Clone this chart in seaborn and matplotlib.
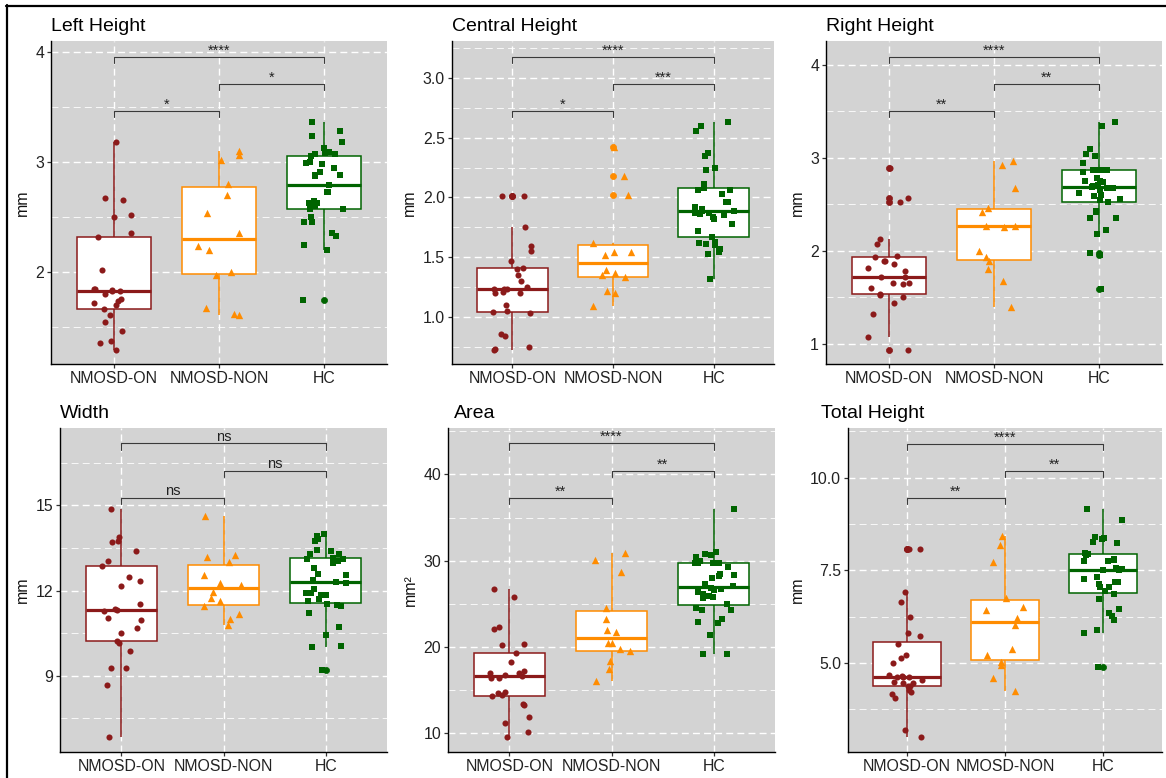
import numpy as np
import pandas as pd
import matplotlib
matplotlib.use("Agg")
import matplotlib.pyplot as plt
from matplotlib.lines import Line2D
import seaborn as sns

# ---------------- data ----------------
groups = ["NMOSD-ON", "NMOSD-NON", "HC"]
group_colors = ["#8B1A1A", "#FF8C00", "#006400"]
group_markers = ["o", "^", "s"]
group_sizes = [4.4, 5.3, 4.0]

left_on = [3.18, 2.66, 2.67, 2.50, 2.52, 2.36, 2.32, 2.02, 1.85, 1.84, 1.85, 1.83, 1.83,
           1.80, 1.76, 1.74, 1.72, 1.70, 1.67, 1.61, 1.55, 1.47, 1.38, 1.36, 1.30]
left_non = [3.06, 3.02, 3.10, 2.80, 2.70, 2.54, 2.36, 2.24, 2.20, 1.98, 2.00, 1.68, 1.62, 1.61]
left_hc = [3.36, 3.28, 3.24, 3.18, 3.13, 3.09, 3.07, 3.08, 3.07, 3.05, 2.99, 2.95, 2.98, 3.00,
           2.88, 2.88, 2.91, 2.87, 2.79, 2.73, 2.73, 2.65, 2.60, 2.65, 2.63, 2.63, 2.57, 2.57,
           2.57, 2.50, 2.46, 2.46, 2.36, 2.33, 2.25, 2.20, 1.75]

central_on = [2.01, 2.01, 1.75, 1.59, 1.55, 1.47, 1.40, 1.41, 1.35, 1.30, 1.23, 1.23, 1.20,
              1.25, 1.23, 1.20, 1.21, 1.10, 1.04, 1.05, 1.03, 0.86, 0.84, 0.75, 0.72, 0.73]
central_non = [2.42, 2.18, 2.02, 1.62, 1.52, 1.54, 1.54, 1.39, 1.37, 1.35, 1.33, 1.22, 1.20, 1.09]
central_hc = [2.63, 2.60, 2.56, 2.37, 2.35, 2.25, 2.23, 2.23, 2.06, 2.11, 2.06, 2.08, 2.03,
              1.96, 1.96, 1.89, 1.86, 1.92, 1.87, 1.90, 1.89, 1.87, 1.85, 1.84, 1.82, 1.78,
              1.72, 1.67, 1.62, 1.63, 1.61, 1.60, 1.57, 1.53, 1.55, 1.54, 1.32]

right_on = [2.89, 2.57, 2.53, 2.13, 2.07, 1.95, 1.93, 1.89, 1.86, 1.89, 1.82, 1.78, 1.72,
            1.72, 1.66, 1.66, 1.64, 1.60, 1.54, 1.53, 1.50, 1.44, 1.32, 1.08, 0.94]
right_non = [2.96, 2.92, 2.67, 2.42, 2.46, 2.26, 2.27, 2.27, 2.00, 1.89, 1.93, 1.81, 1.68, 1.40]
right_hc = [3.38, 3.34, 3.09, 3.04, 3.02, 2.94, 2.87, 2.87, 2.87, 2.87, 2.87, 2.85, 2.78,
            2.74, 2.75, 2.75, 2.69, 2.68, 2.70, 2.68, 2.71, 2.65, 2.59, 2.56, 2.55, 2.60,
            2.62, 2.52, 2.42, 2.43, 2.35, 2.35, 2.22, 2.18, 1.98, 1.96, 1.59]

width_on = [14.87, 13.89, 13.76, 13.71, 13.38, 13.04, 12.88, 12.35, 12.46, 12.15, 11.53,
            11.31, 11.28, 11.35, 11.05, 10.97, 10.70, 10.50, 10.24, 10.17, 9.87, 9.28, 9.26,
            8.69, 6.86]
width_non = [14.61, 13.26, 13.18, 13.02, 12.54, 12.19, 12.25, 11.96, 11.73, 11.64, 11.44,
             11.00, 11.16, 10.78]
width_hc = [13.99, 13.83, 13.73, 13.92, 13.29, 13.28, 13.38, 13.42, 13.15, 12.96, 13.05,
            13.11, 13.10, 12.78, 12.60, 12.54, 12.36, 12.28, 12.30, 12.07, 11.92, 11.86,
            11.86, 11.65, 11.72, 11.91, 11.48, 11.44, 11.51, 11.20, 10.72, 10.45, 10.06,
            10.03, 9.20]

area_on = [26.76, 25.79, 22.05, 22.28, 20.27, 20.31, 19.34, 18.26, 16.95, 16.95, 16.72,
           16.64, 16.41, 16.45, 17.22, 14.71, 14.75, 14.48, 14.36, 13.40, 13.24, 11.85,
           11.20, 10.12, 9.61]
area_non = [30.89, 30.04, 28.65, 24.56, 23.20, 21.70, 21.97, 20.42, 20.42, 19.73, 19.50,
            18.38, 17.49, 16.02]
area_hc = [35.98, 31.00, 30.73, 30.42, 30.66, 29.69, 29.77, 30.00, 29.77, 29.69, 29.23,
           28.42, 28.30, 27.99, 28.26, 27.30, 27.10, 26.68, 26.80, 27.07, 26.56, 26.33,
           26.10, 25.75, 25.64, 25.91, 25.02, 24.56, 24.29, 24.29, 23.28, 22.90, 22.74,
           21.35, 19.15, 19.19]

total_on = [8.08, 8.08, 6.92, 6.64, 6.23, 5.80, 5.72, 5.50, 5.22, 5.14, 4.99, 4.63, 4.69,
            4.63, 4.65, 4.62, 4.55, 4.50, 4.46, 4.45, 4.39, 4.26, 4.38, 4.23, 4.16, 4.07,
            3.19, 3.01]
total_non = [8.43, 8.18, 7.72, 6.76, 6.44, 6.52, 6.21, 6.02, 5.37, 5.21, 5.04, 4.95, 4.60, 4.25]
total_hc = [9.15, 8.86, 8.34, 8.26, 8.36, 8.39, 8.23, 7.98, 7.94, 7.79, 7.92, 7.81, 7.75,
            7.75, 7.56, 7.52, 7.53, 7.50, 7.32, 7.19, 7.12, 7.06, 7.26, 7.18, 7.06, 6.93,
            6.86, 6.74, 6.47, 6.36, 6.26, 6.15, 5.89, 5.80, 4.88]

titles = ["Left Height", "Central Height", "Right Height", "Width", "Area", "Total Height"]
ylabels = ["mm", "mm", "mm", "mm", "mm\u00b2", "mm"]

sig_left = ["*", "*", "****"]
sig_central = ["*", "***", "****"]
sig_right = ["**", "**", "****"]
sig_width = ["ns", "ns", "ns"]
sig_area = ["**", "**", "****"]
sig_total = ["**", "**", "****"]
comparisons = [(0, 1), (1, 2), (0, 2)]

yticks_left = [2, 3, 4]
yticklabels_left = ["2", "3", "4"]
yticks_central = [1.0, 1.5, 2.0, 2.5, 3.0]
yticklabels_central = ["1.0", "1.5", "2.0", "2.5", "3.0"]
yticks_right = [1, 2, 3, 4]
yticklabels_right = ["1", "2", "3", "4"]
yticks_width = [9, 12, 15]
yticklabels_width = ["9", "12", "15"]
yticks_area = [10, 20, 30, 40]
yticklabels_area = ["10", "20", "30", "40"]
yticks_total = [5.0, 7.5, 10.0]
yticklabels_total = ["5.0", "7.5", "10.0"]

panel_data = [
    (left_on, left_non, left_hc),
    (central_on, central_non, central_hc),
    (right_on, right_non, right_hc),
    (width_on, width_non, width_hc),
    (area_on, area_non, area_hc),
    (total_on, total_non, total_hc),
]
panel_sigs = [sig_left, sig_central, sig_right, sig_width, sig_area, sig_total]
panel_ticks = [
    (yticks_left, yticklabels_left),
    (yticks_central, yticklabels_central),
    (yticks_right, yticklabels_right),
    (yticks_width, yticklabels_width),
    (yticks_area, yticklabels_area),
    (yticks_total, yticklabels_total),
]

# ---------------- layout (pixels) ----------------
W, H = 1166, 778
panel_boxes = [(51, 41, 387, 364), (452, 41, 774, 364), (826, 41, 1162, 364),
               (60, 428, 387, 752), (448, 428, 775, 752), (848, 428, 1162, 752)]
title_x = [51, 452, 826, 60, 454, 821]
panel_ylims = [(1.169, 4.097), (0.605, 3.31), (0.785, 4.254),
               (6.32, 17.72), (7.83, 45.37), (2.60, 11.34)]

sns.set_style("white")
plt.rcParams["font.family"] = ["Liberation Sans", "DejaVu Sans"]
plt.rcParams["lines.scale_dashes"] = False

fig = plt.figure(figsize=(W / 100, H / 100), dpi=100)
fig.patch.set_facecolor("white")

dash = (0, (5, 3))
for p in range(6):
    l, t, r, b = panel_boxes[p]
    ax = fig.add_axes([l / W, 1 - b / H, (r - l) / W, (b - t) / H])
    ax.set_facecolor("#D3D3D3")
    ax.set_axisbelow(True)

    frames = []
    for g, vals in zip(groups, panel_data[p]):
        frames.append(pd.DataFrame({"group": g, "value": vals}))
    df = pd.concat(frames, ignore_index=True)

    for gi, g in enumerate(groups):
        sub = df[df["group"] == g]
        c = group_colors[gi]
        sns.boxplot(data=sub, x="group", y="value", order=groups, color="white",
                    linecolor=c, saturation=1, width=0.7, linewidth=1.1,
                    showcaps=False,
                    flierprops=dict(marker="o", markerfacecolor=c, markeredgecolor=c,
                                    markersize=4.4, markeredgewidth=0.5),
                    medianprops=dict(color=c, linewidth=2.3),
                    whiskerprops=dict(color=c, linewidth=1.1),
                    boxprops=dict(facecolor="white", edgecolor=c, linewidth=1.1),
                    ax=ax)
    for gi, g in enumerate(groups):
        sub = df[df["group"] == g]
        np.random.seed(10 * p + gi + 3)
        sns.stripplot(data=sub, x="group", y="value", order=groups,
                      color=group_colors[gi], marker=group_markers[gi],
                      size=group_sizes[gi], jitter=0.2, linewidth=0, zorder=3, ax=ax)

    # significance brackets
    vals_all = df["value"]
    vmax, vmin = vals_all.max(), vals_all.min()
    rng = vmax - vmin
    tip = 0.027 * rng
    for i, ((x1, x2), lab) in enumerate(zip(comparisons, panel_sigs[p])):
        yb = vmax + rng * (0.05 + 0.119 * i)
        ax.plot([x1, x1, x2, x2], [yb - tip, yb, yb, yb - tip], color="#3a3a3a",
                linewidth=0.8, zorder=4)
        ax.annotate(lab, ((x1 + x2) / 2, yb), xytext=(0, 1.6), textcoords="offset points",
                    ha="center", va="baseline", fontsize=10.5, color="#222222", zorder=5)

    ax.set_xlim(-0.6, 2.6)
    ax.set_ylim(*panel_ylims[p])
    ticks, tlabels = panel_ticks[p]
    ax.set_yticks(ticks, labels=tlabels)
    step = ticks[1] - ticks[0]
    lo, hi = panel_ylims[p]
    minors = [ticks[0] - step / 2 + k * step for k in range(len(ticks) + 2)]
    minors = [m for m in minors if lo < m < hi]
    ax.set_yticks(minors, minor=True)
    ax.set_xticks([0, 1, 2], labels=groups)
    ax.set_xlabel("")
    ax.set_ylabel(ylabels[p], fontsize=11.4, color="#111111", labelpad=4)

    ax.grid(True, which="major", axis="both", color="white", linestyle=dash, linewidth=1.0)
    ax.grid(True, which="minor", axis="y", color="white", linestyle=dash, linewidth=0.6)
    for s in ["top", "right"]:
        ax.spines[s].set_visible(False)
    for s in ["left", "bottom"]:
        ax.spines[s].set_visible(True)
        ax.spines[s].set_color("black")
        ax.spines[s].set_linewidth(1.0)
    ax.tick_params(axis="both", which="major", length=3, width=0.9, color="#333333",
                   labelsize=11.4, labelcolor="#222222", pad=2, direction="out",
                   bottom=True, left=True)
    ax.tick_params(axis="both", which="minor", length=0)
    fig.text(title_x[p] / W, 1 - (t - 10) / H, titles[p], ha="left", va="baseline",
             fontsize=14, color="black")

# frame lines on top and left of the figure
fig.add_artist(Line2D([7 / W, 7 / W], [0, 1 - 5 / H], transform=fig.transFigure,
                      color="black", linewidth=1.6))
fig.add_artist(Line2D([6 / W, 1], [1 - 6 / H, 1 - 6 / H], transform=fig.transFigure,
                      color="black", linewidth=1.6))

fig.savefig("out.png", dpi=100, facecolor="white")
